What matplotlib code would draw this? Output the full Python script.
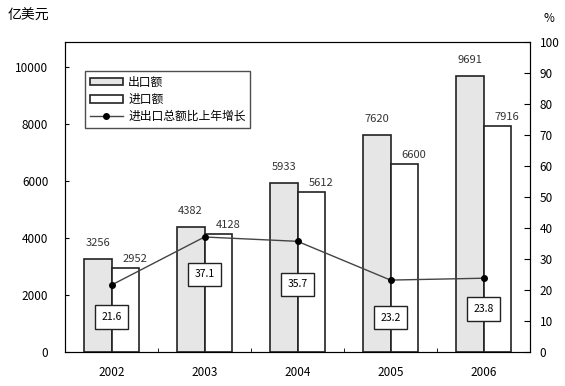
import numpy as np
import matplotlib
matplotlib.use("Agg")
from matplotlib import pyplot as plt

plt.rcParams['font.family'] = ['Noto Sans CJK SC', 'DejaVu Sans']

# 数据
years = ['2002', '2003', '2004', '2005', '2006']
exports = [3256, 4382, 5933, 7620, 9691]
imports = [2952, 4128, 5612, 6600, 7916]
growth = [21.6, 37.1, 35.7, 23.2, 23.8]

# 增长率标签框距离折线点的下移量(磅)
box_drop = [23, 27, 31, 27, 22]

fig = plt.figure(figsize=(5.65, 3.86), dpi=100)
ax = fig.add_axes([65/565, 34/386, 465/565, 310/386])

x = np.arange(len(years))
w = 0.30
b1 = ax.bar(x - w/2, exports, w, color='#e6e6e6', edgecolor='#222222', linewidth=1.2, label='出口额')
b2 = ax.bar(x + w/2, imports, w, color='white', edgecolor='#222222', linewidth=1.2, label='进口额')

for xi, v in zip(x, exports):
    ax.annotate(str(v), (xi - w/2, v), xytext=(0, 8), textcoords='offset points',
                ha='center', va='bottom', fontsize=8, color='#333333')
for xi, v in zip(x, imports):
    ax.annotate(str(v), (xi + w/2, v), xytext=(7, 3), textcoords='offset points',
                ha='center', va='bottom', fontsize=8, color='#333333')

ax.set_xlim(-0.5, 4.5)
ax.set_ylim(0, 10880)
ax.set_yticks([0, 2000, 4000, 6000, 8000, 10000])
ax.set_xticks(x)
ax.set_xticklabels(years)
ax.set_xticks(np.arange(-0.5, 5, 1), minor=True)
ax.tick_params(axis='x', which='major', length=0, pad=10, labelsize=8.5)
ax.tick_params(axis='x', which='minor', direction='in', length=3)
ax.tick_params(axis='y', direction='in', length=3, labelsize=8.5, pad=12)
for s in ax.spines.values():
    s.set_color('#333333')

ax2 = ax.twinx()
ax2.set_ylim(0, 100)
ax2.set_yticks(range(0, 101, 10))
ax2.tick_params(axis='y', direction='in', length=4, labelsize=8.5, pad=7)
ln, = ax2.plot(x, growth, color='#444444', linewidth=1.0, marker='o', markersize=4,
               markerfacecolor='black', markeredgecolor='black', label='进出口总额比上年增长')
for xi, v, d in zip(x, growth, box_drop):
    ax2.annotate(f'{v}', (xi, v), xytext=(0, -d), textcoords='offset points',
                 ha='center', va='center', fontsize=7.5,
                 bbox=dict(boxstyle='square,pad=0.65', fc='white', ec='#222222', lw=1.0))

ax.legend(handles=[b1, b2, ln], loc='upper left', bbox_to_anchor=(0.043, 0.906),
          borderaxespad=0, fontsize=8.5, frameon=True, fancybox=False, edgecolor='#222222',
          handlelength=2.8, handleheight=0.6, handletextpad=0.45, labelspacing=0.35,
          borderpad=0.4)

fig.text(8/565, 1 - 16/386, '亿美元', fontsize=10, va='center', ha='left')
fig.text(549/565, 1 - 18/386, '%', fontsize=8.5, va='center', ha='center')

fig.savefig('out.png', dpi=100)
